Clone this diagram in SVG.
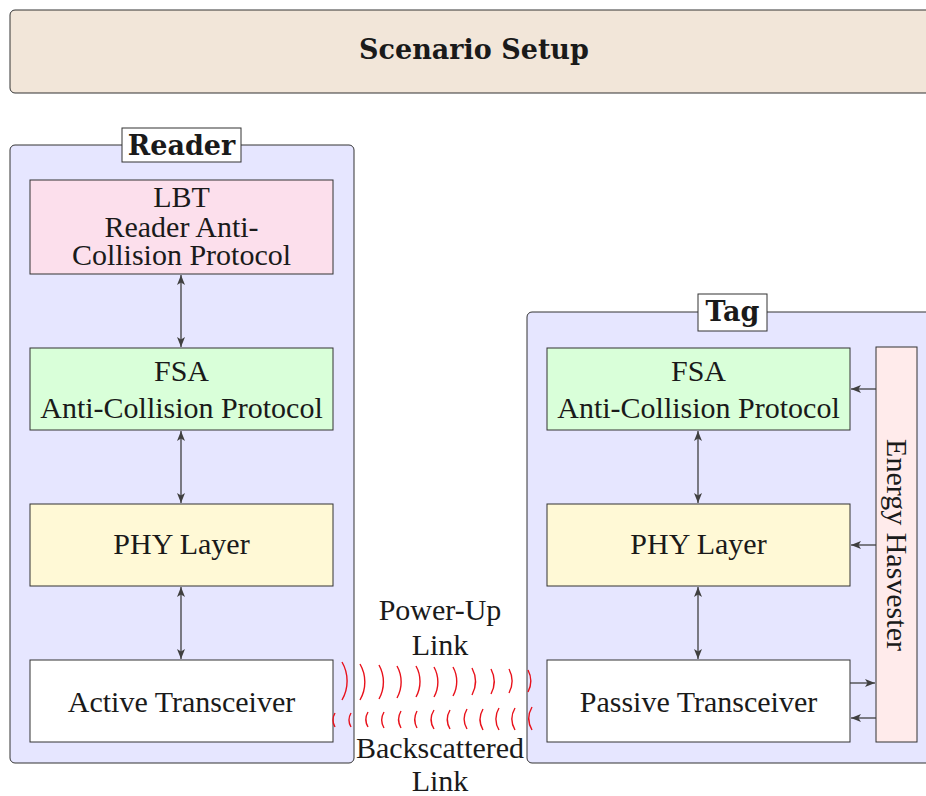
<svg xmlns="http://www.w3.org/2000/svg" width="926" height="796" viewBox="0 0 926 796">
<defs>
<marker id="ah" viewBox="0 0 10 8" refX="10" refY="4" markerWidth="10" markerHeight="8" markerUnits="userSpaceOnUse" orient="auto-start-reverse">
<path d="M0,0 L10,4 L0,8 L2.5,4 Z" fill="#404040"/>
</marker>
</defs>
<style>
text{font-family:"Liberation Serif",serif;fill:#1a1a1a;text-anchor:middle}
.t{font-size:30px}
.b{font-family:"DejaVu Serif","Liberation Serif",serif;font-size:27px;font-weight:bold}
.box{stroke:#333;stroke-width:1}
.cont{fill:#e6e6ff;stroke:#333;stroke-width:1}
.lbl{fill:#fff;stroke:#333;stroke-width:1}
.arr{stroke:#404040;stroke-width:1.3;fill:none;marker-end:url(#ah)}
.dbl{stroke:#404040;stroke-width:1.3;fill:none;marker-end:url(#ah);marker-start:url(#ah)}
.w{stroke:#e8111b;stroke-width:1.4;fill:none}
</style>

<g id="banner">
<rect x="10" y="10" width="940" height="83" rx="5" fill="#f2e6d9" stroke="#333" stroke-width="1"/>
<text class="b" x="474" y="59">Scenario Setup</text>
</g>

<g id="reader">
<rect class="cont" x="10" y="145" width="344" height="618" rx="5"/>
<rect class="lbl" x="122" y="128" width="119" height="34"/>
<text class="b" x="181.5" y="155">Reader</text>
</g>

<g id="tag">
<rect class="cont" x="527" y="312" width="420" height="451" rx="5"/>
<rect class="lbl" x="698" y="294" width="69" height="37"/>
<text class="b" x="732.5" y="321">Tag</text>
</g>

<g id="lbt">
<rect class="box" x="30" y="180" width="303" height="94" fill="#fcdfec"/>
<text class="t" x="181.5" y="207">LBT</text>
<text class="t" x="181.5" y="237">Reader Anti-</text>
<text class="t" x="181.5" y="265">Collision Protocol</text>
</g>

<g id="fsa-reader">
<rect class="box" x="30" y="348" width="303" height="82" fill="#d9ffd9"/>
<text class="t" x="181.5" y="381">FSA</text>
<text class="t" x="181.5" y="418">Anti-Collision Protocol</text>
</g>

<g id="phy-reader">
<rect class="box" x="30" y="504" width="303" height="82" fill="#fff9d6"/>
<text class="t" x="181.5" y="554">PHY Layer</text>
</g>

<g id="active">
<rect class="box" x="30" y="660" width="303" height="82" fill="#fff"/>
<text class="t" x="181.5" y="712">Active Transceiver</text>
</g>

<g id="fsa-tag">
<rect class="box" x="547" y="348" width="303" height="82" fill="#d9ffd9"/>
<text class="t" x="698.5" y="381">FSA</text>
<text class="t" x="698.5" y="418">Anti-Collision Protocol</text>
</g>

<g id="phy-tag">
<rect class="box" x="547" y="504" width="303" height="82" fill="#fff9d6"/>
<text class="t" x="698.5" y="554">PHY Layer</text>
</g>

<g id="passive">
<rect class="box" x="547" y="660" width="303" height="82" fill="#fff"/>
<text class="t" x="698.5" y="712">Passive Transceiver</text>
</g>

<g id="harvester">
<rect class="box" x="876" y="347" width="41" height="395" fill="#ffebeb"/>
<text class="t" transform="translate(897,545) rotate(90)" x="0" y="10">Energy Hasvester</text>
</g>

<g id="links">
<text class="t" x="440" y="620">Power-Up</text>
<text class="t" x="440" y="655">Link</text>
<text class="t" x="440" y="758">Backscattered</text>
<text class="t" x="440" y="791">Link</text>
</g>

<g id="connectors">
<line class="dbl" x1="181" y1="275" x2="181" y2="347"/>
<line class="dbl" x1="181" y1="431" x2="181" y2="503"/>
<line class="dbl" x1="181" y1="587" x2="181" y2="659"/>
<line class="dbl" x1="698" y1="431" x2="698" y2="503"/>
<line class="dbl" x1="698" y1="587" x2="698" y2="659"/>
<line class="arr" x1="876" y1="389" x2="851" y2="389"/>
<line class="arr" x1="876" y1="545" x2="851" y2="545"/>
<line class="arr" x1="850" y1="683" x2="875" y2="683"/>
<line class="arr" x1="876" y1="718" x2="851" y2="718"/>
</g>

<g id="waves">
<path class="w" d="M342,662 A38,38 0 0 1 342,700"/>
<path class="w" d="M360,664 A36,36 0 0 1 360,700"/>
<path class="w" d="M379,665 A35,35 0 0 1 379,699"/>
<path class="w" d="M397,666 A33,33 0 0 1 397,698"/>
<path class="w" d="M416,666 A32,32 0 0 1 416,697"/>
<path class="w" d="M434,667 A31,31 0 0 1 434,697"/>
<path class="w" d="M453,667 A30,30 0 0 1 453,696"/>
<path class="w" d="M472,668 A29,29 0 0 1 472,695"/>
<path class="w" d="M491,669 A27,27 0 0 1 491,694"/>
<path class="w" d="M509,669 A26,26 0 0 1 509,693"/>
<path class="w" d="M528,670 A24,24 0 0 1 528,692"/>

<path class="w" d="M335,713 A14,14 0 0 0 335,727"/>
<path class="w" d="M351,713 A14,14 0 0 0 351,727"/>
<path class="w" d="M368,712 A15,15 0 0 0 368,727"/>
<path class="w" d="M384,712 A16,16 0 0 0 384,728"/>
<path class="w" d="M401,711 A17,17 0 0 0 401,728"/>
<path class="w" d="M417,711 A18,18 0 0 0 417,728"/>
<path class="w" d="M434,710 A18,18 0 0 0 434,729"/>
<path class="w" d="M450,710 A19,19 0 0 0 450,729"/>
<path class="w" d="M467,709 A20,20 0 0 0 467,729"/>
<path class="w" d="M483,709 A21,21 0 0 0 483,730"/>
<path class="w" d="M499,708 A21,21 0 0 0 499,730"/>
<path class="w" d="M515,708 A22,22 0 0 0 515,730"/>
<path class="w" d="M532,707 A23,23 0 0 0 532,730"/>
</g>
</svg>
